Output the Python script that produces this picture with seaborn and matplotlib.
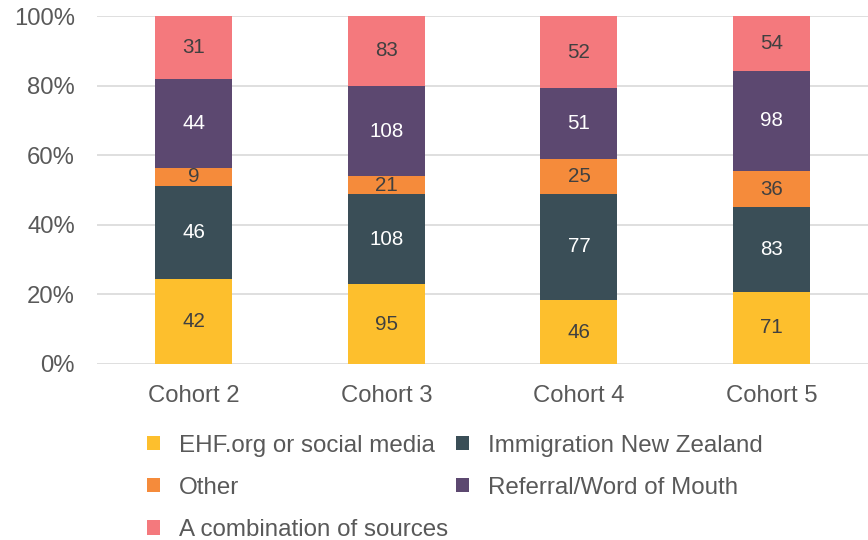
import matplotlib
matplotlib.use("Agg")
import matplotlib.pyplot as plt
import numpy as np
import pandas as pd
import seaborn as sns
from matplotlib.patches import Patch
from matplotlib.ticker import PercentFormatter

# ── data ──
cohorts = ["Cohort 2", "Cohort 3", "Cohort 4", "Cohort 5"]
sources = [
    "EHF.org or social media",
    "Immigration New Zealand",
    "Other",
    "Referral/Word of Mouth",
    "A combination of sources",
]
ehf = [42, 95, 46, 71]
immigration = [46, 108, 77, 83]
other = [9, 21, 25, 36]
referral = [44, 108, 51, 98]
combination = [31, 83, 52, 54]

COLORS = {
    "EHF.org or social media": "#FDBF2D",
    "Immigration New Zealand": "#3A4E57",
    "Other": "#F58B3B",
    "Referral/Word of Mouth": "#5C4870",
    "A combination of sources": "#F4797D",
}
LABEL_COLORS = {
    "EHF.org or social media": "#404040",
    "Immigration New Zealand": "white",
    "Other": "#404040",
    "Referral/Word of Mouth": "white",
    "A combination of sources": "#404040",
}

sns.set_theme(style="white")
plt.rcParams["font.family"] = ["Liberation Sans", "DejaVu Sans"]
TEXT = "#595959"

counts = pd.DataFrame(
    {"EHF.org or social media": ehf, "Immigration New Zealand": immigration, "Other": other,
     "Referral/Word of Mouth": referral, "A combination of sources": combination},
    index=cohorts,
)
share = counts.div(counts.sum(axis=1), axis=0)
cum = share.cumsum(axis=1)

fig = plt.figure(figsize=(8.68, 5.4), dpi=100)
ax = fig.add_axes([0.112, 0.326, 0.888, 0.644])

# stacked bars: draw cumulative totals from the top layer down
for src in reversed(sources):
    d = pd.DataFrame({"cohort": cohorts, "value": cum[src].values})
    sns.barplot(data=d, x="cohort", y="value", order=cohorts, color=COLORS[src],
                width=0.4, linewidth=0, saturation=1, ax=ax, zorder=3)

# segment labels
for i, c in enumerate(cohorts):
    for src in sources:
        mid = cum.loc[c, src] - share.loc[c, src] / 2
        ax.text(i, mid, f"{counts.loc[c, src]}", ha="center", va="center",
                fontsize=14.8, color=LABEL_COLORS[src], zorder=5)

ax.set_ylim(0, 1)
ax.set_xlim(-0.5, 3.5)
ax.set_yticks(np.linspace(0, 1, 6))
ax.yaxis.set_major_formatter(PercentFormatter(1.0, decimals=0))
ax.yaxis.grid(True, color="#D9D9D9", linewidth=1.2, zorder=0)
ax.set_axisbelow(True)
for s in ax.spines.values():
    s.set_visible(False)
ax.tick_params(axis="both", length=0, labelsize=17.2, colors=TEXT)
ax.tick_params(axis="x", pad=15)
ax.tick_params(axis="y", pad=16)
ax.set_xlabel("")
ax.set_ylabel("")

order = ["EHF.org or social media", "Other", "A combination of sources",
         "Immigration New Zealand", "Referral/Word of Mouth"]
handles = [Patch(facecolor=COLORS[s], edgecolor="none") for s in order]
leg = fig.legend(handles, order, ncol=2, loc="upper left", bbox_to_anchor=(0.1695, 0.195),
                 frameon=False, fontsize=17.4, handlelength=0.55, handleheight=0.55,
                 handletextpad=0.75, columnspacing=0.35, labelspacing=0.83,
                 borderaxespad=0, borderpad=0)
for t in leg.get_texts():
    t.set_color(TEXT)

fig.savefig("out.png", dpi=100)
